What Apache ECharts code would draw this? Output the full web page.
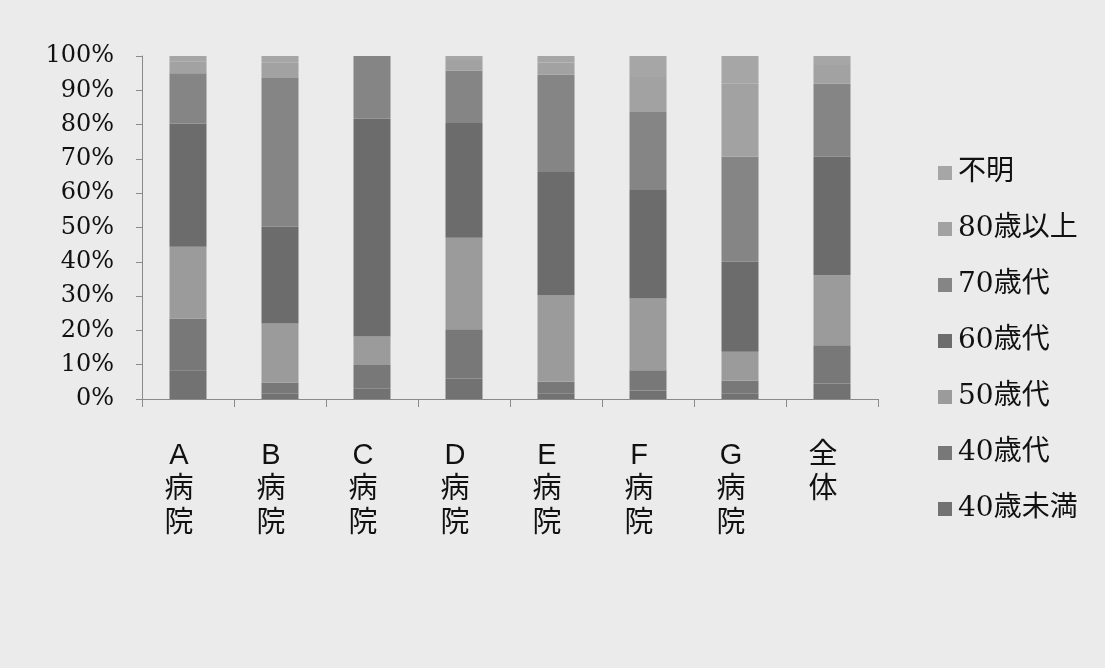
<!DOCTYPE html>
<html>
<head>
<meta charset="utf-8">
<script src="https://cdn.jsdelivr.net/npm/echarts@6/dist/echarts.min.js"></script>
<style>
html,body{margin:0;padding:0;background:#ebebeb;}
#c{width:1105px;height:668px;}
</style>
</head>
<body>
<div id="c"></div>
<script>
var categories = ['A病院','B病院','C病院','D病院','E病院','F病院','G病院','全体'];
var under40 = [8.4, 1.5, 3.0, 6.0, 1.5, 2.5, 1.5, 4.5];
var age40s  = [15.1, 3.3, 6.9, 14.3, 3.5, 5.9, 3.8, 11.2];
var age50s  = [20.9, 17.2, 8.3, 26.7, 25.3, 20.9, 8.5, 20.4];
var age60s  = [35.9, 28.2, 63.5, 33.5, 35.9, 31.6, 26.2, 34.5];
var age70s  = [14.7, 43.4, 18.3, 15.3, 28.4, 22.8, 30.6, 21.3];
var over80  = [3.5, 4.4, 0, 3.0, 3.5, 10.2, 21.3, 5.5];
var unknown = [1.5, 2.0, 0, 1.2, 1.9, 6.1, 8.1, 2.6];
var seriesNames = ['40歳未満','40歳代','50歳代','60歳代','70歳代','80歳以上','不明'];
var seriesData = [under40, age40s, age50s, age60s, age70s, over80, unknown];
var seriesColors = ['#727272','#787878','#9b9b9b','#6c6c6c','#858585','#a2a2a2','#a6a6a6'];

var chart = echarts.init(document.getElementById('c'));
var series = seriesNames.map(function(n, i){
  return {
    name: n, type: 'bar', stack: 'total', barWidth: 37,
    data: seriesData[i],
    itemStyle: {color: seriesColors[i]},
    emphasis: {disabled: true}
  };
});
chart.setOption({
  animation: false,
  backgroundColor: '#ebebeb',
  grid: {left: 142, right: 227, top: 56, bottom: 269, containLabel: false},
  legend: {
    orient: 'vertical', left: 933, top: 154,
    data: seriesNames.slice().reverse(),
    itemWidth: 14, itemHeight: 14, itemGap: 28, icon: 'rect',
    textStyle: {fontSize: 28, lineHeight: 28, color: '#111', padding: [0, 0, 0, 1],
      fontFamily: '"DejaVu Serif", "Noto Sans CJK JP", serif'}
  },
  xAxis: {
    type: 'category', data: categories,
    axisLine: {lineStyle: {color: '#8a8a8a', width: 1}},
    axisTick: {show: true, length: 8, lineStyle: {color: '#8a8a8a'}},
    axisLabel: {
      margin: 40, fontSize: 29, lineHeight: 34, color: '#111',
      fontFamily: '"Liberation Sans", "Noto Sans CJK JP", sans-serif',
      padding: [0, 18, 0, 0],
      formatter: function(v){ return v.split('').join('\n'); }
    }
  },
  yAxis: {
    type: 'value', min: 0, max: 100, interval: 10,
    axisLine: {show: true, lineStyle: {color: '#8a8a8a', width: 1}},
    axisTick: {show: true, length: 6, lineStyle: {color: '#8a8a8a'}},
    splitLine: {show: false},
    axisLabel: {
      margin: 28, fontSize: 24, color: '#111',
      fontFamily: '"DejaVu Serif", serif',
      formatter: '{value}%'
    }
  },
  series: series
});
</script>
</body>
</html>
